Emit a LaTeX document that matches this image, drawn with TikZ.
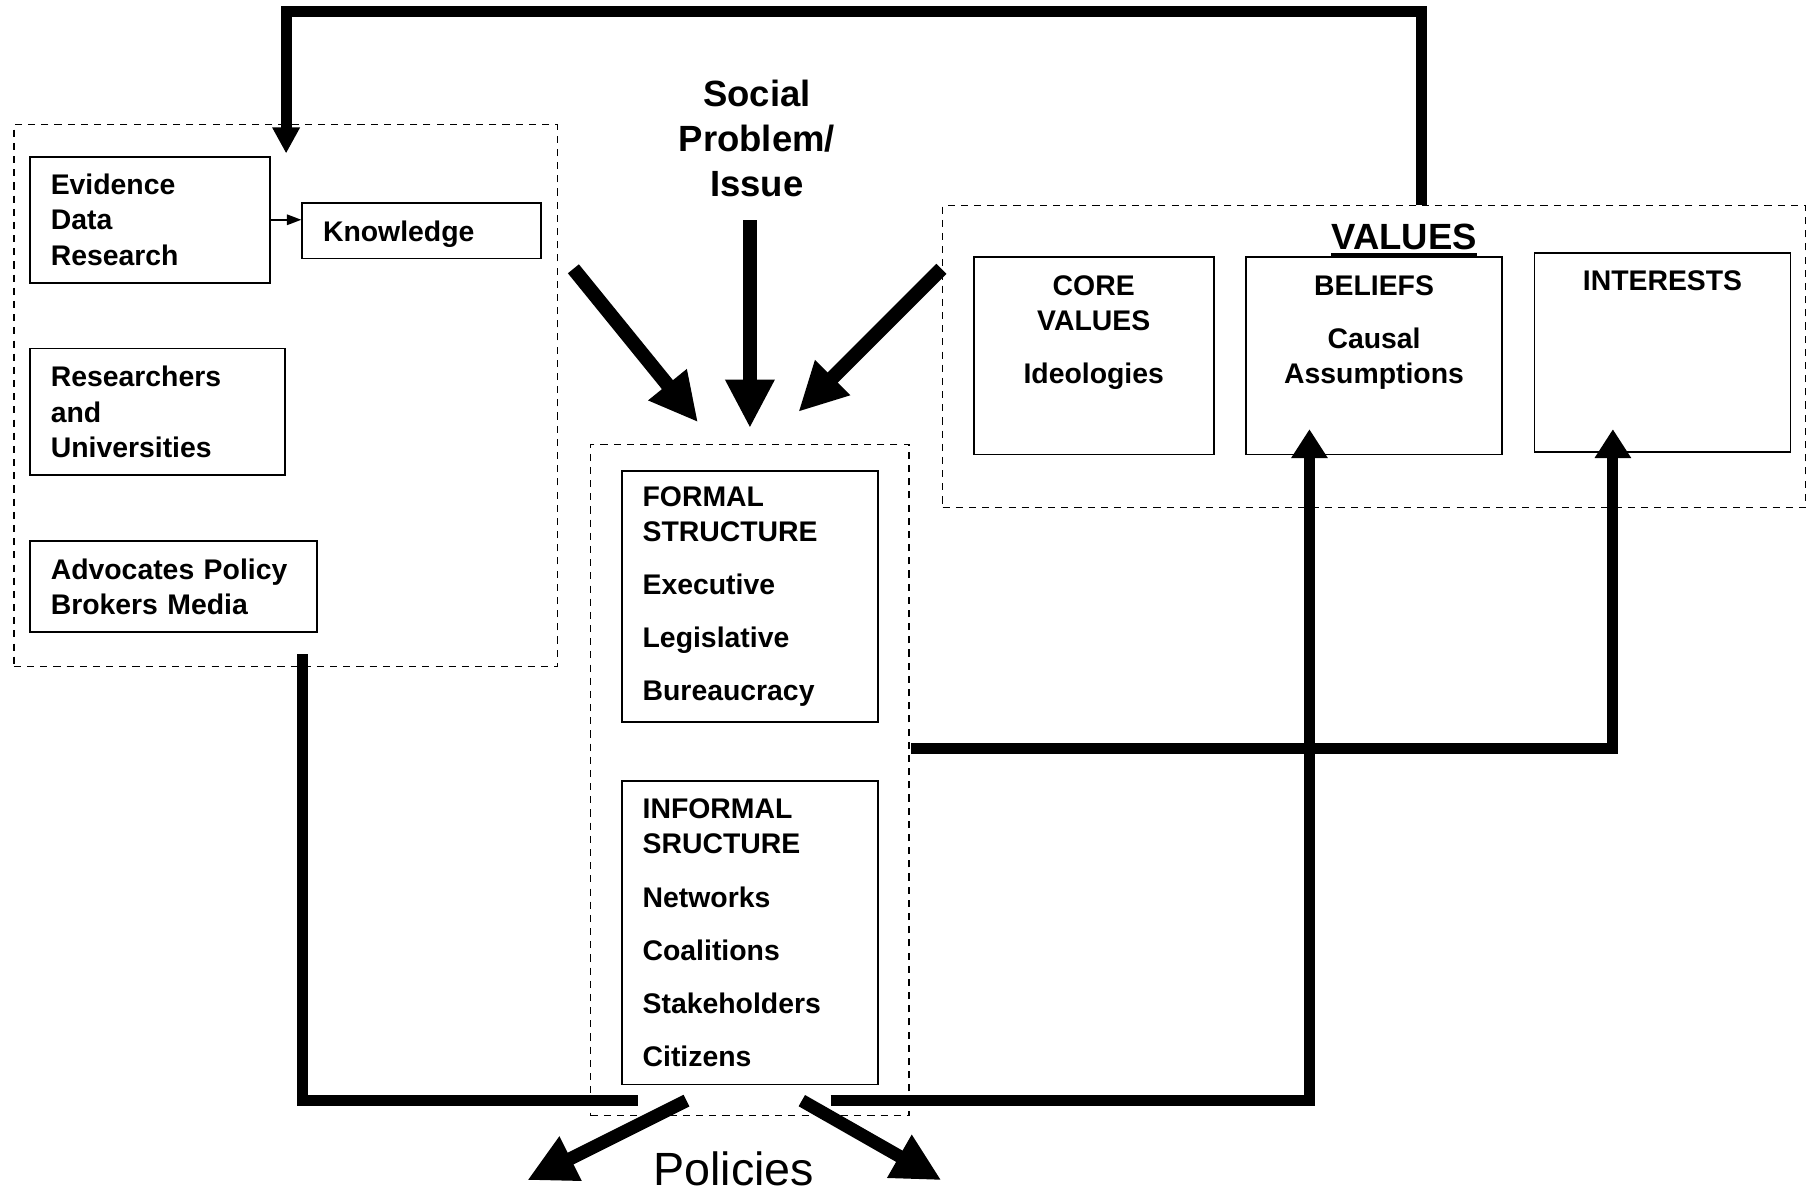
\documentclass[tikz,border=0pt]{standalone}
\usepackage{fontspec}
\setmainfont{Liberation Sans}
\usetikzlibrary{arrows.meta}

\newcommand{\boxfont}{\fontsize{14}{17.4}\selectfont\bfseries}
\newcommand{\titlefont}{\fontsize{18}{22.2}\selectfont\bfseries}
\newcommand{\policyfont}{\fontsize{23}{27}\selectfont}

\begin{document}
\begin{tikzpicture}[
    x=0.02cm, y=-0.02cm,
    box/.style={draw, line width=0.9pt, inner xsep=0.36cm, inner ysep=0pt, align=left, font=\boxfont},
    plainbox/.style={draw, line width=0.9pt, inner sep=0pt},
    group/.style={draw, line width=0.6pt, dash pattern=on 3.5pt off 3pt, inner sep=0pt},
    txt/.style={inner sep=0pt, align=center, text depth=0pt},
    link/.style={line width=5.4pt},
    bigarrow/.style={line width=7pt, -{Triangle[width=0.8cm,length=0.84cm]}}
]

\useasboundingbox (0,0) rectangle (1568,1034);

% Knowledge side
\node[group, minimum width=9.42cm, minimum height=9.4cm] (leftgrp) at (247.5,343) {};
\node[box, text width=3.44cm, minimum height=2.18cm] (evid) at (130,190.5) {Evidence\\Data\\Research};
\node[box, text width=3.42cm, minimum height=0.96cm, text depth=0pt] (know) at (365.5,200) {Knowledge};
\node[box, text width=3.70cm, minimum height=2.2cm] (research) at (136.5,357) {Researchers\\and\\Universities};
\node[box, text width=4.26cm, minimum height=1.58cm] (advoc) at (150.5,508.5) {Advocates Policy\\Brokers Media};
\draw[line width=0.9pt, -{Triangle[width=0.18cm,length=0.25cm]}] (evid.east) -- (evid.east -| know.west);

% Problem in the middle
\node[txt, font=\titlefont] (issue) at (656,120) {Social\\Problem/\\Issue};

% Government structures
\node[group, minimum width=5.52cm, minimum height=11.64cm] (govgrp) at (650,676) {};
\node[box, text width=3.72cm, minimum height=4.36cm] (formal) at (650,517)
    {FORMAL\\STRUCTURE\\[0.31cm]Executive\\[0.31cm]Legislative\\[0.31cm]Bureaucracy};
\node[box, text width=3.72cm, minimum height=5.26cm] (informal) at (650,808.5)
    {INFORMAL\\SRUCTURE\\[0.31cm]Networks\\[0.31cm]Coalitions\\[0.31cm]Stakeholders\\[0.31cm]Citizens};

% Values side
\node[group, minimum width=14.96cm, minimum height=5.24cm] (valgrp) at (1191,309) {};
\node[txt, font=\titlefont] (valtitle) at (1217,205) {VALUES};
\draw[line width=1.5pt] ([yshift=-0.1cm]valtitle.base west) -- ([yshift=-0.1cm]valtitle.base east);
\node[plainbox, minimum width=4.16cm, minimum height=3.42cm] (core) at (948,308.5) {};
\node[plainbox, minimum width=4.44cm, minimum height=3.42cm] (beliefs) at (1191,308.5) {};
\node[plainbox, minimum width=4.44cm, minimum height=3.46cm] (interests) at (1441,305.5) {};
\node[txt, font=\boxfont, anchor=north] (core-txt) at ([yshift=-0.32cm]core.north) {CORE\\VALUES\\[0.31cm]Ideologies};
\node[txt, font=\boxfont, anchor=north] (beliefs-txt) at ([yshift=-0.32cm]beliefs.north) {BELIEFS\\[0.31cm]Causal\\Assumptions};
\node[txt, font=\boxfont, anchor=north] (interests-txt) at ([yshift=-0.32cm]interests.north) {INTERESTS};

% Outcome
\node[txt, font=\policyfont] (policies) at (636,1013) {Policies};

% Connector ends
\coordinate (fb-out) at (1232,178);
\coordinate (fb-top) at (248,10);
\coordinate (fb-in) at (248,133);
\coordinate (adv-out) at (262,567);
\coordinate (inf-left) at (553,954);
\coordinate (inf-right) at (720,954);
\coordinate (beliefs-in) at (1135,372);
\coordinate (formal-out) at (790,649);
\coordinate (interests-in) at (1398,372);
\coordinate (know-out) at (497,233);
\coordinate (gov-in1) at (605,366);
\coordinate (issue-out) at (650,191);
\coordinate (gov-in2) at (650,371);
\coordinate (val-out) at (816,233);
\coordinate (gov-in3) at (692,357);
\coordinate (pol-out1) at (595,954);
\coordinate (pol-tip1) at (457,1023);
\coordinate (pol-out2) at (695,954);
\coordinate (pol-tip2) at (816,1023);

% Feedback loops
\draw[link, -{Triangle[width=0.45cm,length=0.45cm]}] (fb-out) |- (fb-top) -- (fb-in);
\draw[link] (adv-out) |- (inf-left);
\draw[link, -{Triangle[width=0.6cm,length=0.5cm]}] (inf-right) -| (beliefs-in);
\draw[link, -{Triangle[width=0.6cm,length=0.5cm]}] (formal-out) -| (interests-in);

% Inputs to government
\draw[bigarrow] (know-out) -- (gov-in1);
\draw[bigarrow] (issue-out) -- (gov-in2);
\draw[bigarrow] (val-out) -- (gov-in3);

% Policies out
\draw[bigarrow, line width=6.4pt] (pol-out1) -- (pol-tip1);
\draw[bigarrow, line width=6.4pt] (pol-out2) -- (pol-tip2);

\end{tikzpicture}
\end{document}
